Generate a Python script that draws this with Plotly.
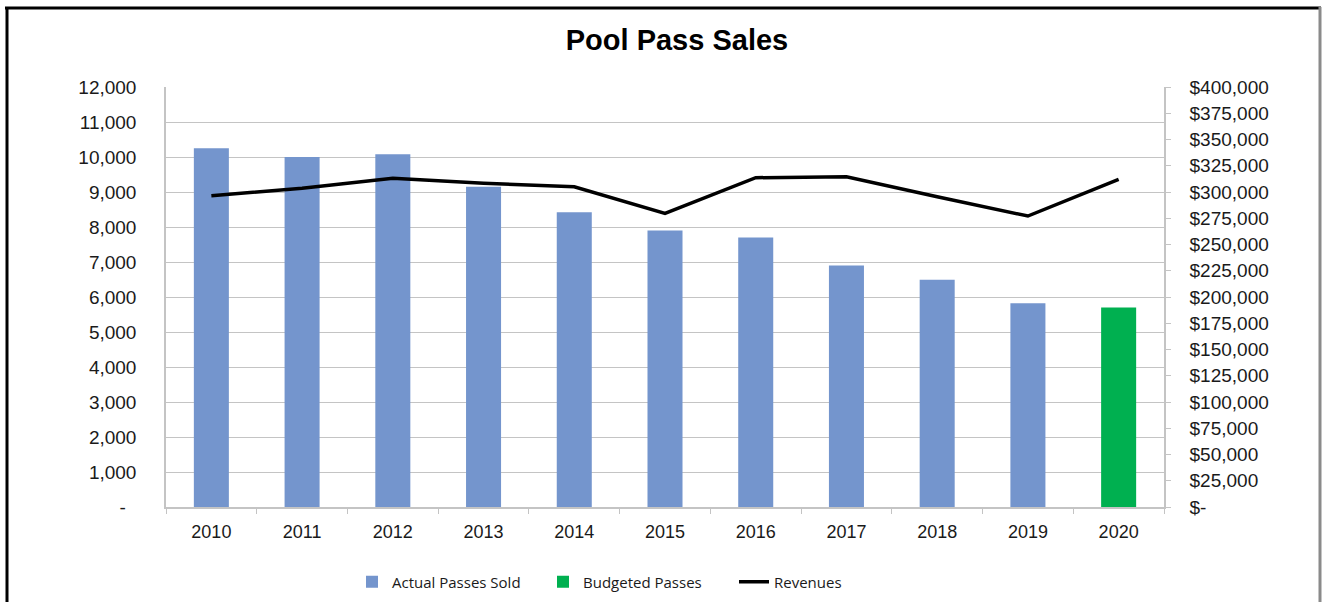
import plotly.graph_objects as go

# Pool pass sales by year
years = ["2010", "2011", "2012", "2013", "2014", "2015", "2016", "2017", "2018", "2019", "2020"]
actual_passes = [10250, 10000, 10080, 9150, 8420, 7900, 7700, 6900, 6490, 5820, None]
budgeted_passes = [None, None, None, None, None, None, None, None, None, None, 5700]
revenues = [296500, 303500, 313000, 308300, 305000, 279700, 313600, 314600, 295500, 277100, 312100]

left_ticks = list(range(0, 12001, 1000))
right_ticks = list(range(0, 400001, 25000))

W, H = 1323, 602
ML, MR, MT, MB = 166, 159, 87, 95
PW, PH = W - ML - MR, H - MT - MB

BLUE = "#7495CD"
GREEN = "#00B050"
GRID = "#C4C4C4"
TEXT = "#1A1A1A"

fig = go.Figure()

fig.add_trace(go.Bar(
    x=years, y=actual_passes, name="Actual Passes Sold",
    marker=dict(color=BLUE, line=dict(width=0)),
))
fig.add_trace(go.Bar(
    x=years, y=budgeted_passes, name="Budgeted Passes",
    marker=dict(color=GREEN, line=dict(width=0)),
))
fig.add_trace(go.Scatter(
    x=years, y=revenues, name="Revenues", yaxis="y2",
    mode="lines", line=dict(color="black", width=3.5),
))

left_text = [f"{v:,}" if v else "-\u00a0\u00a0" for v in left_ticks]
right_text = [f"${v:,}" if v else "$-" for v in right_ticks]


def px_x(px):
    return (px - ML) / PW


def px_y(py):
    return (H - MB - py) / PH


# outer frame of the chart
frame = [
    dict(x0=px_x(5), x1=px_x(1321), y0=px_y(8), y1=px_y(8), color="black", width=3),
    dict(x0=px_x(7), x1=px_x(7), y0=px_y(7), y1=px_y(602), color="black", width=3),
    dict(x0=px_x(1320), x1=px_x(1320), y0=px_y(7), y1=px_y(602), color="#8A8A8A", width=3),
]
shapes = [
    dict(type="line", xref="paper", yref="paper", x0=f["x0"], x1=f["x1"], y0=f["y0"], y1=f["y1"],
         line=dict(color=f["color"], width=f["width"]), layer="above")
    for f in frame
]

fig.update_layout(
    width=W, height=H,
    margin=dict(l=ML, r=MR, t=MT, b=MB, autoexpand=False),
    paper_bgcolor="white", plot_bgcolor="white",
    barmode="overlay", bargap=0.614,
    font=dict(family="Liberation Sans, Arial, sans-serif", color=TEXT, size=18),
    title=dict(
        text="<b>Pool Pass Sales</b>", xref="container", yref="container",
        x=677 / W, y=1 - 40 / H, xanchor="center", yanchor="middle",
        font=dict(family="Liberation Sans, Arial, sans-serif", size=29, color="black"),
    ),
    xaxis=dict(
        type="category", showgrid=False, showline=True, linecolor=GRID, linewidth=1.5,
        ticks="outside", tickson="boundaries", ticklen=5, tickcolor=GRID,
        tickfont=dict(size=18), ticklabelstandoff=8,
    ),
    yaxis=dict(
        range=[0, 12000], tickvals=left_ticks, ticktext=left_text,
        showgrid=True, gridcolor=GRID, gridwidth=1, zeroline=False,
        showline=True, linecolor=GRID, linewidth=1.5,
        tickfont=dict(size=19), ticks="", ticklabelstandoff=24,
    ),
    yaxis2=dict(
        overlaying="y", side="right", range=[0, 400000],
        tickvals=right_ticks, ticktext=right_text,
        showgrid=False, zeroline=False, showline=True, linecolor=GRID, linewidth=1.5,
        ticks="outside", ticklen=5, tickcolor=GRID,
        tickfont=dict(size=19), ticklabelstandoff=15,
    ),
    legend=dict(
        orientation="h", xref="container", yref="container",
        x=352 / W, y=1 - 582 / H, xanchor="left", yanchor="middle",
        font=dict(family="Open Sans, sans-serif", size=15, color=TEXT),
        entrywidth=146, entrywidthmode="pixels", traceorder="normal",
        bgcolor="rgba(0,0,0,0)",
    ),
    shapes=shapes,
)

fig.write_html("out.html")
